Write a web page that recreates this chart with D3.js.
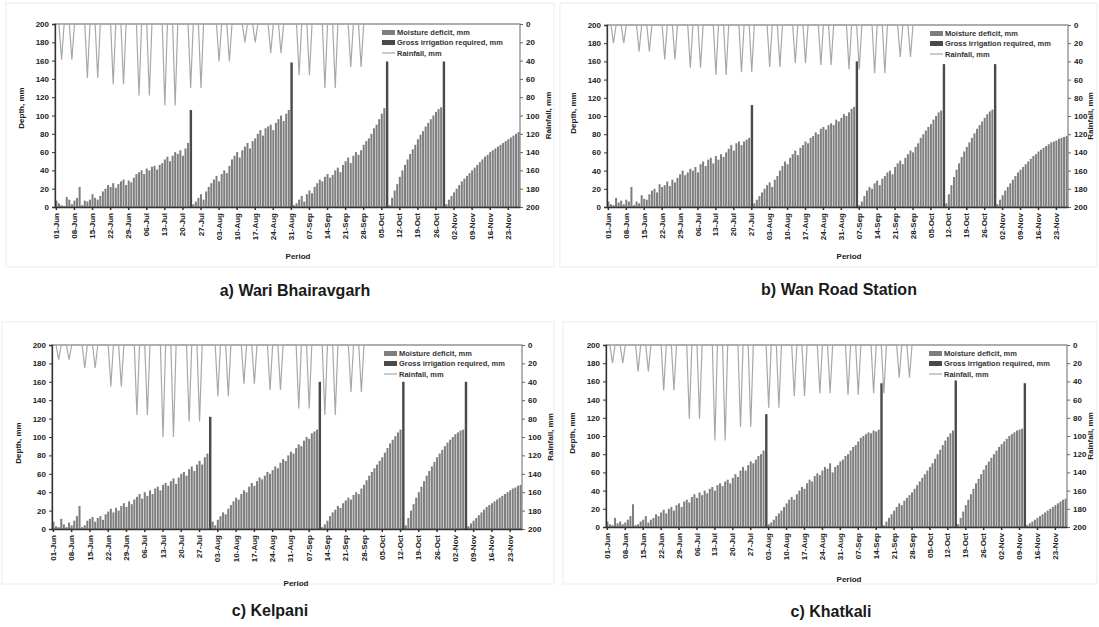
<!doctype html>
<html>
<head>
<meta charset="utf-8">
<script src="https://cdn.jsdelivr.net/npm/d3@7"></script>
<style>
  body { margin: 0; background: #fff; }
  svg { font-family: "Liberation Sans", Arial, sans-serif; }
  .tick text { font-size: 8px; font-weight: bold; fill: #222; }
  .lab { font-size: 8px; font-weight: bold; fill: #222; }
  .leg { font-size: 7.5px; font-weight: bold; fill: #333; }
  .title { font-size: 16px; font-weight: bold; fill: #1a1a1a; }
</style>
</head>
<body>
<svg width="1099" height="627"></svg>
<script>
// daily series, 01-Jun .. 27-Nov
var nDays = 180;
var tickLabels = ["01-Jun","08-Jun","15-Jun","22-Jun","29-Jun","06-Jul","13-Jul","20-Jul","27-Jul",
  "03-Aug","10-Aug","17-Aug","24-Aug","31-Aug","07-Sep","14-Sep","21-Sep","28-Sep",
  "05-Oct","12-Oct","19-Oct","26-Oct","02-Nov","09-Nov","16-Nov","23-Nov"];

// rainfall events (day index) and amounts, mm
var rainDays = [2,6,12,16,22,26,32,36,42,46,52,56,63,67,73,77,83,87,94,98,104,108,114,118];
var rainA = [39,39,59,59,66,66,78,78,89,89,70,70,41,41,20,20,32,32,56,56,70,70,47,47];
var rainB = [20,20,29,29,38,38,47,47,55,55,52,52,46,46,42,42,44,44,49,49,53,53,35,35];
var rainC = [16,16,25,25,45,45,76,76,100,100,83,83,56,56,42,42,49,49,69,69,76,76,51,51];
var rainD = [20,20,29,29,50,50,81,81,105,105,90,90,69,69,56,56,53,53,55,55,53,53,36,36];

// gross irrigation required (day index, mm)
var irrDaysA = [52,91,128,150], irrA = [106,158,159,159];
var irrDaysB = [56,97,131,151], irrB = [112,160,157,157];
var irrDaysC = [60,102,134,158], irrC = [122,160,160,160];
var irrDaysD = [62,107,136,163], irrD = [124,158,161,158];

// moisture deficit, mm
var deficitA = [
  7,4,2,1,11,8,3,7,10,22, 2,7,6,8,14,10,8,12,17,20, 24,22,26,21,25,28,30,24,29,27,
  32,36,38,40,36,42,40,44,45,41, 46,48,52,55,50,56,60,58,62,56, 64,70, 0,
  3,6,10,14,8,17,22,26,30,34, 28,36,40,37,45,52,56,60,54,62, 66,70,64,72,75,80,84,78,86,88,
  90,84,92,96,100,94,102,106, 0,
  2,4,8,12,6,14,18,15,22,26, 30,28,33,36,32,35,40,43,38,46, 50,54,48,56,60,57,62,68,72,75,
  80,86,90,96,102,108, 0,
  2,10,18,25,33,40,46,52,58,63, 68,74,79,83,88,92,96,100,104,107, 109, 0,
  3,8,12,16,20,24,28,31,34,37, 40,43,46,49,52,55,57,60,62,64, 66,68,70,72,74,76,78,80,82];
var deficitB = [
  6,3,2,10,5,7,3,8,6,22, 2,6,4,13,9,8,14,18,20,16, 25,22,24,28,23,30,27,32,36,40,
  35,38,42,40,44,38,47,50,45,52, 54,48,56,52,58,55,60,64,68,62, 70,72,68,72,74,76, 0,
  4,8,12,16,20,24,27,22,30,34, 40,45,50,47,54,58,62,57,65,68, 72,70,76,78,82,80,86,88,85,90,
  92,90,96,94,98,102,100,104,108,110, 0,
  2,6,12,18,22,20,26,29,24,31, 34,38,40,36,44,48,51,47,54,58, 62,60,66,70,76,80,84,88,91,96,
  100,104,106, 0,
  4,14,24,33,41,48,55,61,66,71, 76,81,86,90,94,98,102,105,107, 0,
  3,8,13,18,22,26,30,34,38,41, 44,47,50,53,56,58,61,63,65,67, 69,71,72,73,75,76,77,78];
var deficitC = [
  8,3,2,11,5,2,7,4,9,14, 25,2,4,9,11,13,8,12,14,10, 16,19,22,18,23,20,25,28,24,30,
  27,32,35,38,33,40,36,42,38,44, 46,42,48,50,47,52,55,49,56,60, 62,58,65,68,63,70,74,70,78,82, 0,
  8,4,10,14,18,16,22,26,30,34, 32,38,42,40,46,50,47,52,56,54, 58,62,60,64,68,66,72,76,74,80,
  84,82,88,92,90,96,100,98,104,106,108, 0,
  2,5,9,14,18,21,25,23,28,31, 34,32,37,40,38,44,48,53,58,62, 66,70,74,78,83,88,93,97,101,105,108, 0,
  4,12,20,27,34,40,46,52,58,63, 68,73,78,82,86,90,94,97,100,103,105,107,108, 0,
  3,6,9,12,15,18,21,24,26,28, 30,32,34,36,38,40,42,44,45,47,48];
var deficitD = [
  6,3,2,10,4,6,3,5,8,12, 25,2,3,6,8,12,5,8,10,14, 12,16,19,15,20,22,18,24,26,22,
  28,30,27,33,36,32,38,35,40,37, 42,44,40,46,48,45,50,52,48,54, 58,55,62,66,62,68,72,70,74,78,
  80,84, 0,
  3,5,8,12,15,18,22,26,30,33, 30,36,40,44,42,48,52,50,56,59, 57,62,66,64,70,60,66,68,72,74,
  78,80,84,88,90,94,98,100,102,104,103,106,105,107, 0,
  2,6,10,14,18,22,26,24,29,32, 35,38,42,46,50,54,58,62,66,70, 75,80,85,90,95,99,103,106, 0,
  3,10,17,24,30,36,42,48,53,58, 63,68,72,76,80,84,88,91,94,97, 100,102,104,106,107,108, 0,
  2,4,6,8,10,12,14,16,18,20, 22,24,26,28,30,31];

var panels = [
  { title: "a) Wari Bhairavgarh", deficit: deficitA, irrDays: irrDaysA, irr: irrA, rain: rainA,
    l: 55, t: 24, r: 520, b: 207, titlePos: [295, 296], periodPos: [298, 259], depthY: 108,
    frame: [6, 3, 548, 264] },
  { title: "b) Wan Road Station", deficit: deficitB, irrDays: irrDaysB, irr: irrB, rain: rainB,
    l: 607, t: 25, r: 1068, b: 207, titlePos: [839, 295], periodPos: [849, 259], depthY: 113,
    frame: [560, 3, 537, 264] },
  { title: "c) Kelpani", deficit: deficitC, irrDays: irrDaysC, irr: irrC, rain: rainC,
    l: 52, t: 345, r: 522, b: 529, titlePos: [270, 616], periodPos: [296, 586], depthY: 443,
    frame: [2, 322, 552, 262] },
  { title: "c) Khatkali", deficit: deficitD, irrDays: irrDaysD, irr: irrD, rain: rainD,
    l: 606, t: 345, r: 1067, b: 527, titlePos: [831, 617], periodPos: [849, 582], depthY: 433,
    frame: [563, 322, 534, 262] }
];

var svg = d3.select("svg");

panels.forEach(function (p) {
  var g = svg.append("g");

  g.append("rect")
    .attr("x", p.frame[0]).attr("y", p.frame[1])
    .attr("width", p.frame[2]).attr("height", p.frame[3])
    .attr("fill", "none").attr("stroke", "#ececec");

  var x = d3.scaleBand().domain(d3.range(nDays)).range([p.l, p.r])
    .paddingInner(0.22).paddingOuter(0.15);
  var y = d3.scaleLinear().domain([0, 200]).range([p.b, p.t]);
  var yR = d3.scaleLinear().domain([0, 200]).range([p.t, p.b]);
  var bw = x.bandwidth();

  // plot frame
  g.append("rect")
    .attr("x", p.l).attr("y", p.t)
    .attr("width", p.r - p.l).attr("height", p.b - p.t)
    .attr("fill", "none").attr("stroke", "#8c8c8c").attr("stroke-width", 1.3);

  // moisture deficit
  g.append("g").selectAll("rect")
    .data(p.deficit)
    .join("rect")
    .attr("x", function (d, i) { return x(i); })
    .attr("y", function (d) { return y(d); })
    .attr("width", bw)
    .attr("height", function (d) { return p.b - y(d); })
    .attr("fill", "#7e7e7e");

  // gross irrigation
  g.append("g").selectAll("rect")
    .data(p.irr)
    .join("rect")
    .attr("x", function (d, i) { return x(p.irrDays[i]); })
    .attr("y", function (d) { return y(d); })
    .attr("width", bw + 0.4)
    .attr("height", function (d) { return p.b - y(d); })
    .attr("fill", "#4a4a4a");

  // rainfall, drawn from the top on the inverted right axis
  var daily = d3.range(nDays).map(function (i) {
    var k = rainDays.indexOf(i);
    return k < 0 ? 0 : p.rain[k];
  });
  var line = d3.line()
    .x(function (d, i) { return x(i) + bw / 2; })
    .y(function (d) { return yR(d); });
  g.append("path")
    .datum(daily)
    .attr("d", line)
    .attr("fill", "none")
    .attr("stroke", "#a8a8a8")
    .attr("stroke-width", 1.2);

  // axes
  var ax = g.append("g")
    .attr("transform", "translate(" + p.l + ",0)")
    .call(d3.axisLeft(y).tickValues(d3.range(0, 201, 20)).tickSize(3).tickPadding(3));
  ax.select(".domain").attr("stroke", "#333").attr("stroke-width", 1.3);
  ax.selectAll(".tick line").attr("stroke", "#333");

  var axr = g.append("g")
    .attr("transform", "translate(" + p.r + ",0)")
    .call(d3.axisRight(yR).tickValues(d3.range(0, 201, 20)).tickSize(3).tickPadding(3));
  axr.select(".domain").remove();
  axr.selectAll(".tick line").attr("stroke", "#666");

  var axb = g.append("g")
    .attr("transform", "translate(0," + p.b + ")")
    .call(d3.axisBottom(x).tickValues(d3.range(0, nDays, 7))
      .tickFormat(function (i) { return tickLabels[i / 7]; }).tickSize(3).tickSizeOuter(0));
  axb.select(".domain").attr("stroke", "#333").attr("stroke-width", 1.3);
  axb.selectAll(".tick line").attr("stroke", "#333").attr("stroke-width", 1.5);
  axb.selectAll(".tick text")
    .attr("transform", "rotate(-90)")
    .attr("text-anchor", "end")
    .attr("x", -6).attr("y", 0).attr("dy", "0.32em");

  // axis titles
  g.append("text").attr("class", "lab")
    .attr("transform", "translate(" + (p.l - 31) + "," + p.depthY + ") rotate(-90)")
    .attr("text-anchor", "middle").text("Depth, mm");
  g.append("text").attr("class", "lab")
    .attr("transform", "translate(" + Math.min(p.r + 31, 1093) + "," + ((p.t + p.b) / 2) + ") rotate(-90)")
    .attr("text-anchor", "middle").text("Rainfall, mm");
  g.append("text").attr("class", "lab")
    .attr("x", p.periodPos[0]).attr("y", p.periodPos[1])
    .attr("text-anchor", "middle").text("Period");

  // legend
  var lx = p.r - 138, ly = p.t + 9;
  var leg = g.append("g").attr("transform", "translate(" + lx + "," + ly + ")");
  leg.append("rect").attr("x", 0).attr("y", -3).attr("width", 13).attr("height", 5).attr("fill", "#7e7e7e");
  leg.append("rect").attr("x", 0).attr("y", 7).attr("width", 13).attr("height", 5).attr("fill", "#4a4a4a");
  leg.append("line").attr("x1", 0).attr("x2", 13).attr("y1", 20).attr("y2", 20)
    .attr("stroke", "#a8a8a8").attr("stroke-width", 1.2);
  leg.append("text").attr("class", "leg").attr("x", 15).attr("y", 2).text("Moisture deficit, mm");
  leg.append("text").attr("class", "leg").attr("x", 15).attr("y", 12).text("Gross irrigation required, mm");
  leg.append("text").attr("class", "leg").attr("x", 15).attr("y", 23).text("Rainfall, mm");

  g.append("text").attr("class", "title")
    .attr("x", p.titlePos[0]).attr("y", p.titlePos[1])
    .attr("text-anchor", "middle").text(p.title);
});
</script>
</body>
</html>
